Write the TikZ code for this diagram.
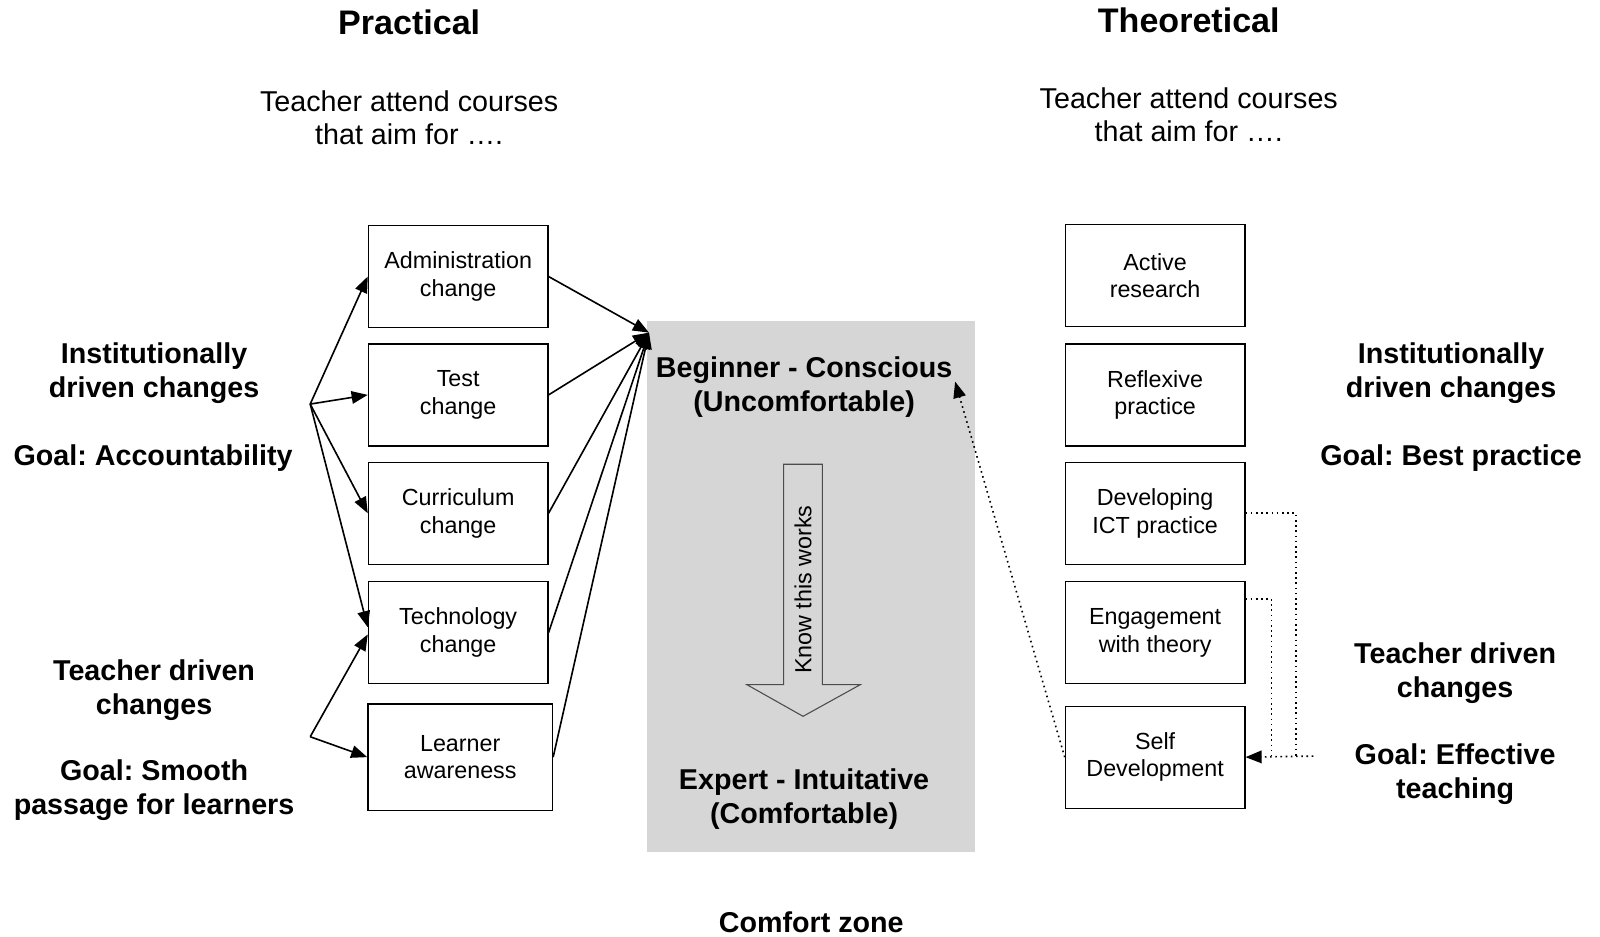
\documentclass[tikz,border=0pt]{standalone}
\usepackage{fontspec}
\setmainfont{Liberation Sans}
\frenchspacing
\usetikzlibrary{arrows.meta,calc}

\begin{document}
\begin{tikzpicture}[x=0.02cm,y=-0.02cm,>={Triangle[length=9pt,width=7pt]},
  chbox/.style={draw,line width=0.7pt,minimum width=3.52cm,minimum height=2cm,align=center,font=\fontsize{13}{15.4}\selectfont},
  sidetext/.style={align=center,font=\fontsize{16}{18.8}\selectfont\bfseries},
  coltitle/.style={font=\fontsize{19}{22}\selectfont\bfseries},
  aim/.style={align=center,font=\fontsize{16}{18.4}\selectfont},
  link/.style={->,line width=0.9pt},
  dotlink/.style={dotted,line width=0.9pt}]
\useasboundingbox (0,0) rectangle (1568,918);
\node[fill=gray!32,minimum width=6.44cm,minimum height=10.4cm] (zone) at (795,575) {};
\node[coltitle] (practical) at (401,22) {Practical};
\node[coltitle] (theoretical) at (1165,20) {Theoretical};
\node[aim] (aimL) at (401,115) {Teacher attend courses\\that aim for ….};
\node[aim] (aimR) at (1165,112) {Teacher attend courses\\that aim for ….};
\node[chbox] (admin) at (449,271) {Administration\\change};
\node[chbox] (test) at (449,387) {Test\\change};
\node[chbox] (curr) at (449,503) {Curriculum\\change};
\node[chbox] (tech) at (449,620) {Technology\\change};
\node[chbox,minimum width=3.62cm,minimum height=2.08cm] (learn) at (451,742) {Learner\\awareness};
\node[chbox] (active) at (1132,270) {Active\\research};
\node[chbox] (reflex) at (1132,387) {Reflexive\\practice};
\node[chbox] (ict) at (1132,503) {Developing\\ICT practice};
\node[chbox] (engage) at (1132,620) {Engagement\\with theory};
\node[chbox] (selfdev) at (1132,742) {Self\\Development};
\node[sidetext] (instL) at (151,366) {Institutionally\\driven changes};
\node[sidetext] (goalL) at (150,449) {Goal: Accountability};
\node[sidetext] (teachL) at (151,676) {Teacher driven\\changes};
\node[sidetext] (smooth) at (151,774) {Goal: Smooth\\passage for learners};
\node[sidetext] (instR) at (1422,366) {Institutionally\\driven changes};
\node[sidetext] (goalR) at (1422,449) {Goal: Best practice};
\node[sidetext] (teachR) at (1426,660) {Teacher driven\\changes};
\node[sidetext] (effective) at (1426,759) {Goal: Effective\\teaching};
\node[sidetext] (beginner) at (788,379) {Beginner - Conscious\\(Uncomfortable)};
\node[sidetext] (expert) at (788,783) {Expert - Intuitative\\(Comfortable)};
\node[sidetext] (comfort) at (795,904) {Comfort zone};
\draw[black!70,line width=0.6pt] (768,455) -- (806,455) -- (806,671) -- (843,671) -- (787,702) -- (732,671) -- (768,671) -- cycle;
\node[rotate=90,font=\fontsize{13}{15}\selectfont] (know) at (787,578) {Know this works};
\coordinate (inst) at (304,396);
\coordinate (teach) at (304,722);
\coordinate (join) at (636,326);
\coordinate (back) at (936,374);
\coordinate (tail) at (1287,741);
\coordinate (icttap) at (1270,741);
\coordinate (engtap) at (1246,741);
\foreach \b in {admin,test,curr}
  \draw[link] (inst) -- (\b.west);
\draw[link] (inst) -- ([yshift=3pt]tech.west);
\draw[link] (teach) -- ([yshift=-1pt]tech.west);
\draw[link] (teach) -- (learn.west);
\foreach \b in {admin,test,curr,tech,learn}
  \draw[link] (\b.east) -- (join);
\draw[dotlink,->] (selfdev.west) -- (back);
\draw[dotlink] (ict.east) -| (icttap);
\draw[dotlink] ([yshift=0.66cm]engage.east) -| (engtap);
\draw[dotlink,->] (tail) -- (selfdev.east);
\end{tikzpicture}
\end{document}
